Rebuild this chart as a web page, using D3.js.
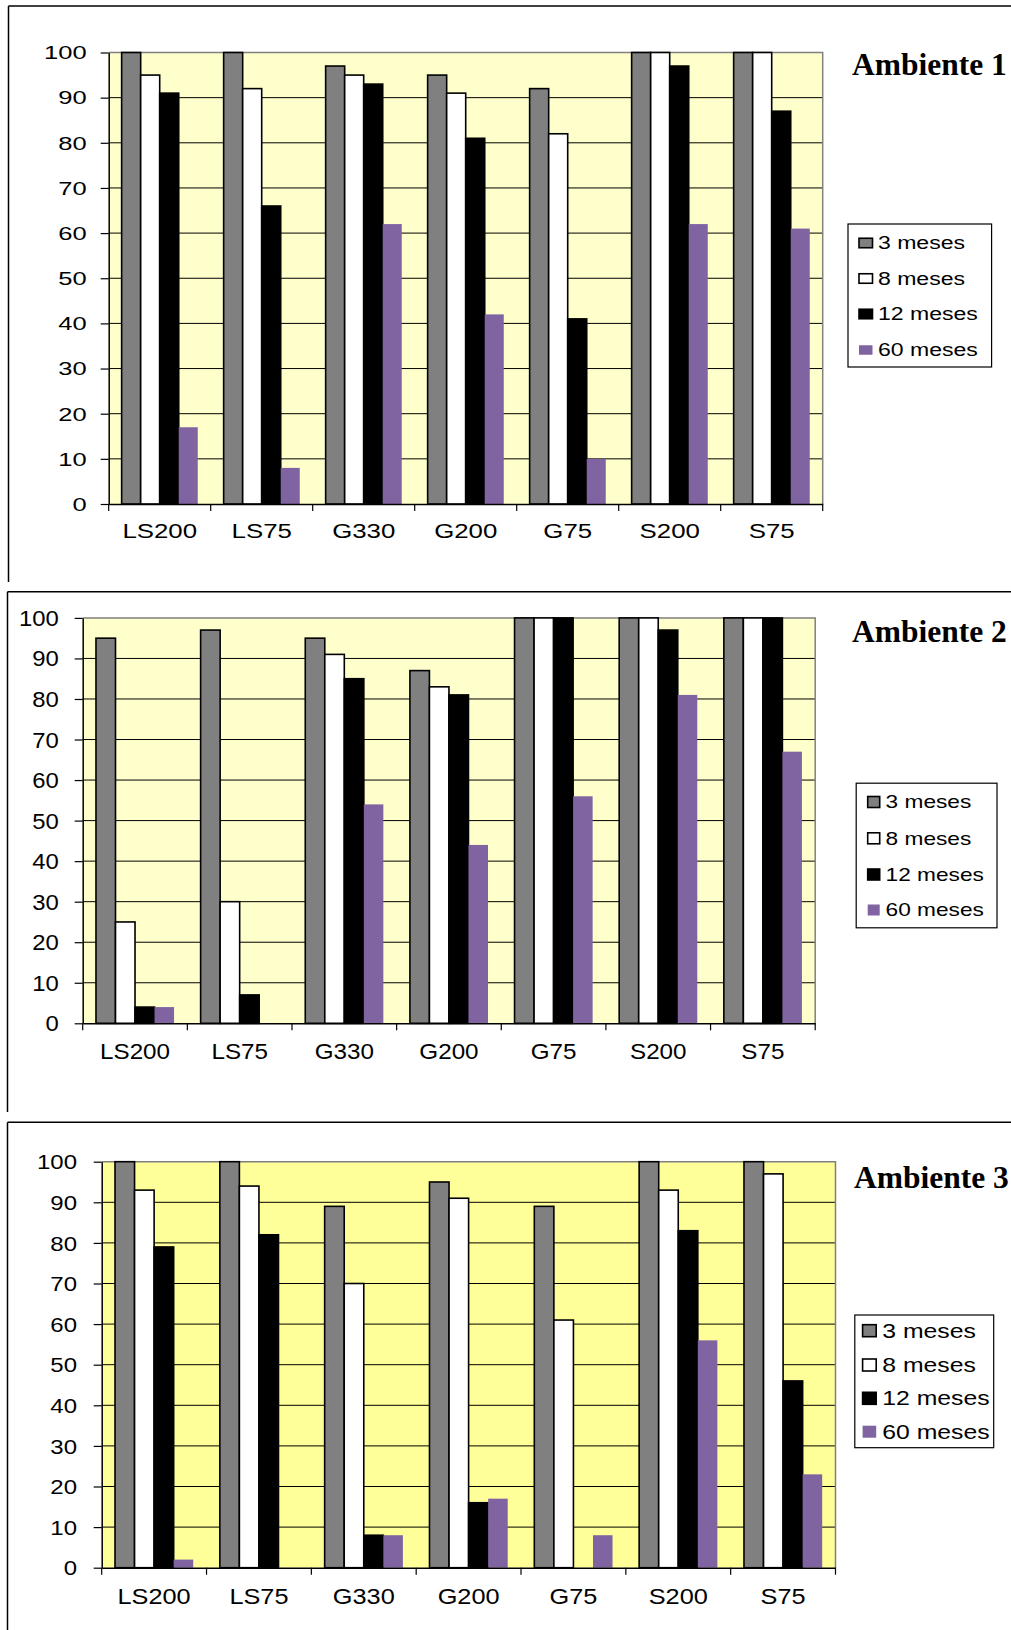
<!DOCTYPE html>
<html>
<head>
<meta charset="utf-8">
<script src="https://cdn.jsdelivr.net/npm/d3@7"></script>
<style>
  body { margin: 0; background: #fff; }
  svg { display: block; }
</style>
</head>
<body>
<svg id="fig" width="1011" height="1630"></svg>
<script>
// Categories, series and axis ticks
const categories = ["LS200", "LS75", "G330", "G200", "G75", "S200", "S75"];
const seriesNames = ["3 meses", "8 meses", "12 meses", "60 meses"];
const yTicks = [0, 10, 20, 30, 40, 50, 60, 70, 80, 90, 100];
const titles = ["Ambiente 1", "Ambiente 2", "Ambiente 3"];

// Ambiente 1
const amb1_3m  = [100, 100, 97, 95, 92, 100, 100];
const amb1_8m  = [95, 92, 95, 91, 82, 100, 100];
const amb1_12m = [91, 66, 93, 81, 41, 97, 87];
const amb1_60m = [17, 8, 62, 42, 10, 62, 61];

// Ambiente 2
const amb2_3m  = [95, 97, 95, 87, 100, 100, 100];
const amb2_8m  = [25, 30, 91, 83, 100, 100, 100];
const amb2_12m = [4, 7, 85, 81, 100, 97, 100];
const amb2_60m = [4, 0, 54, 44, 56, 81, 67];

// Ambiente 3
const amb3_3m  = [100, 100, 89, 95, 89, 100, 100];
const amb3_8m  = [93, 94, 70, 91, 61, 93, 97];
const amb3_12m = [79, 82, 8, 16, 0, 83, 46];
const amb3_60m = [2, 0, 8, 17, 8, 56, 23];

const seriesFill = ["#808080", "#ffffff", "#000000", "#8064a2"];
const seriesStroke = ["#000", "#000", "#000", "none"];

const SANS = "'Liberation Sans', Arial, sans-serif";
const SERIF = "'Liberation Serif', 'Times New Roman', serif";

// Layout of the three stacked panels
const panels = [
  {
    title: titles[0], values: [amb1_3m, amb1_8m, amb1_12m, amb1_60m],
    frame: { x: 8.5, y: 6, bottom: 582 },
    plot: { l: 108.7, r: 822.7, t: 52.5, b: 504 }, bg: "#ffffcc",
    y: { font: 18, sx: 1.42, pad: 14 },
    x: { font: 20.5, sx: 1.26, base: 34 },
    titlePos: { x: 852, y: 75 },
    legend: { x: 848, y: 224, w: 143.6, h: 143, rows: [243, 278.5, 314, 350],
              swX: 859, swW: 13.5, swH: 9.5, txtX: 878, font: 18, sx: 1.28 }
  },
  {
    title: titles[1], values: [amb2_3m, amb2_8m, amb2_12m, amb2_60m],
    frame: { x: 7.5, y: 591.7, bottom: 1112 },
    plot: { l: 82.7, r: 815.2, t: 617.9, b: 1023.3 }, bg: "#ffffcc",
    y: { font: 21.5, sx: 1.11, pad: 16 },
    x: { font: 22, sx: 1.1, base: 36 },
    titlePos: { x: 852, y: 642 },
    legend: { x: 856.2, y: 783.2, w: 140.8, h: 144.6, rows: [802, 838.3, 874.5, 910],
              swX: 867.7, swW: 12, swH: 11, txtX: 885.6, font: 18, sx: 1.26 }
  },
  {
    title: titles[2], values: [amb3_3m, amb3_8m, amb3_12m, amb3_60m],
    frame: { x: 7.5, y: 1122.3, bottom: 1630 },
    plot: { l: 101.7, r: 835.5, t: 1161.7, b: 1567.7 }, bg: "#ffff99",
    y: { font: 20.5, sx: 1.17, pad: 16.7 },
    x: { font: 22, sx: 1.15, base: 36 },
    titlePos: { x: 854, y: 1188.3 },
    legend: { x: 854.8, y: 1315, w: 138.9, h: 132.7, rows: [1330.7, 1365, 1398.3, 1431.7],
              swX: 862.6, swW: 13.6, swH: 12, txtX: 882.3, font: 19.5, sx: 1.27 }
  }
];

const svg = d3.select("#fig");

panels.forEach(p => {
  const g = svg.append("g");
  const P = p.plot;

  // Panel frame: top and left rules
  g.append("line").attr("x1", p.frame.x).attr("x2", 1011)
    .attr("y1", p.frame.y).attr("y2", p.frame.y)
    .attr("stroke", "#000").attr("stroke-width", 1.5);
  g.append("line").attr("x1", p.frame.x).attr("x2", p.frame.x)
    .attr("y1", p.frame.y).attr("y2", p.frame.bottom)
    .attr("stroke", "#000").attr("stroke-width", 1.5);

  // Scales
  const x0 = d3.scaleBand().domain(categories).range([P.l, P.r]).padding(0);
  const x1 = d3.scaleBand().domain(seriesNames).range([0, x0.bandwidth()])
    .paddingInner(0).paddingOuter(0.68);
  const y = d3.scaleLinear().domain([0, 100]).range([P.b, P.t]);

  // Plot background
  g.append("rect").attr("x", P.l).attr("y", P.t)
    .attr("width", P.r - P.l).attr("height", P.b - P.t)
    .attr("fill", p.bg);

  // Horizontal gridlines
  g.append("g").selectAll("line")
    .data(yTicks.filter(t => t > 0 && t < 100))
    .join("line")
    .attr("x1", P.l).attr("x2", P.r)
    .attr("y1", d => y(d)).attr("y2", d => y(d))
    .attr("stroke", "#000").attr("stroke-width", 1);

  // Plot border (top and right)
  g.append("path")
    .attr("d", `M${P.l},${y(100)}H${P.r}V${P.b}`)
    .attr("fill", "none").attr("stroke", "#808080").attr("stroke-width", 1.5);

  // Bars
  const rows = categories.map((c, i) => ({ cat: c, vals: p.values.map(s => s[i]) }));
  const grp = g.append("g").selectAll("g").data(rows).join("g")
    .attr("transform", d => `translate(${x0(d.cat)},0)`);
  grp.selectAll("rect")
    .data(d => d.vals.map((v, k) => ({ v, k })).filter(e => e.v > 0))
    .join("rect")
    .attr("x", e => x1(seriesNames[e.k]))
    .attr("width", x1.bandwidth())
    .attr("y", e => y(e.v))
    .attr("height", e => y(0) - y(e.v))
    .attr("fill", e => seriesFill[e.k])
    .attr("stroke", e => seriesStroke[e.k])
    .attr("stroke-width", 1.6);

  // Y axis
  const ya = g.append("g").attr("transform", `translate(${P.l},0)`)
    .call(d3.axisLeft(y).tickValues(yTicks).tickSize(8).tickSizeOuter(0).tickPadding(p.y.pad));
  ya.select(".domain").attr("stroke", "#000").attr("stroke-width", 1.5);
  ya.selectAll(".tick line").attr("stroke", "#000").attr("stroke-width", 1.2);
  ya.selectAll(".tick text")
    .attr("font-family", SANS).attr("font-size", p.y.font).attr("fill", "#000")
    .attr("x", -(8 + p.y.pad) / p.y.sx)
    .attr("dy", "0.35em")
    .attr("transform", `scale(${p.y.sx},1)`);

  // X axis: baseline, category boundary ticks and centred labels
  const xa = g.append("g").attr("transform", `translate(0,${P.b})`)
    .call(d3.axisBottom(x0).tickSize(0).tickSizeOuter(0));
  xa.select(".domain").attr("stroke", "#000").attr("stroke-width", 1.5);
  xa.selectAll(".tick text")
    .attr("font-family", SANS).attr("font-size", p.x.font).attr("fill", "#000")
    .attr("y", p.x.base).attr("dy", 0)
    .attr("transform", `scale(${p.x.sx},1)`);
  const bounds = categories.map(c => x0(c)).concat([x0.range()[1]]);
  g.append("g").selectAll("line").data(bounds).join("line")
    .attr("x1", d => d).attr("x2", d => d)
    .attr("y1", P.b).attr("y2", P.b + 7)
    .attr("stroke", "#000").attr("stroke-width", 1.2);

  // Panel title
  g.append("text")
    .attr("x", p.titlePos.x).attr("y", p.titlePos.y)
    .attr("font-family", SERIF).attr("font-weight", "bold")
    .attr("font-size", 31.5).attr("fill", "#000")
    .text(p.title);

  // Legend
  const L = p.legend;
  g.append("rect").attr("x", L.x).attr("y", L.y).attr("width", L.w).attr("height", L.h)
    .attr("fill", "#fff").attr("stroke", "#000").attr("stroke-width", 1.2);
  const li = g.append("g").selectAll("g").data(seriesNames).join("g")
    .attr("transform", (d, i) => `translate(0,${L.rows[i]})`);
  li.append("rect")
    .attr("x", L.swX).attr("y", -L.swH / 2)
    .attr("width", L.swW).attr("height", L.swH)
    .attr("fill", (d, i) => seriesFill[i])
    .attr("stroke", (d, i) => seriesStroke[i])
    .attr("stroke-width", 1.6);
  li.append("g").attr("transform", `translate(${L.txtX},0) scale(${L.sx},1)`)
    .append("text")
    .attr("font-family", SANS).attr("font-size", L.font).attr("fill", "#000")
    .attr("dy", "0.36em")
    .text(d => d);
});
</script>
</body>
</html>
